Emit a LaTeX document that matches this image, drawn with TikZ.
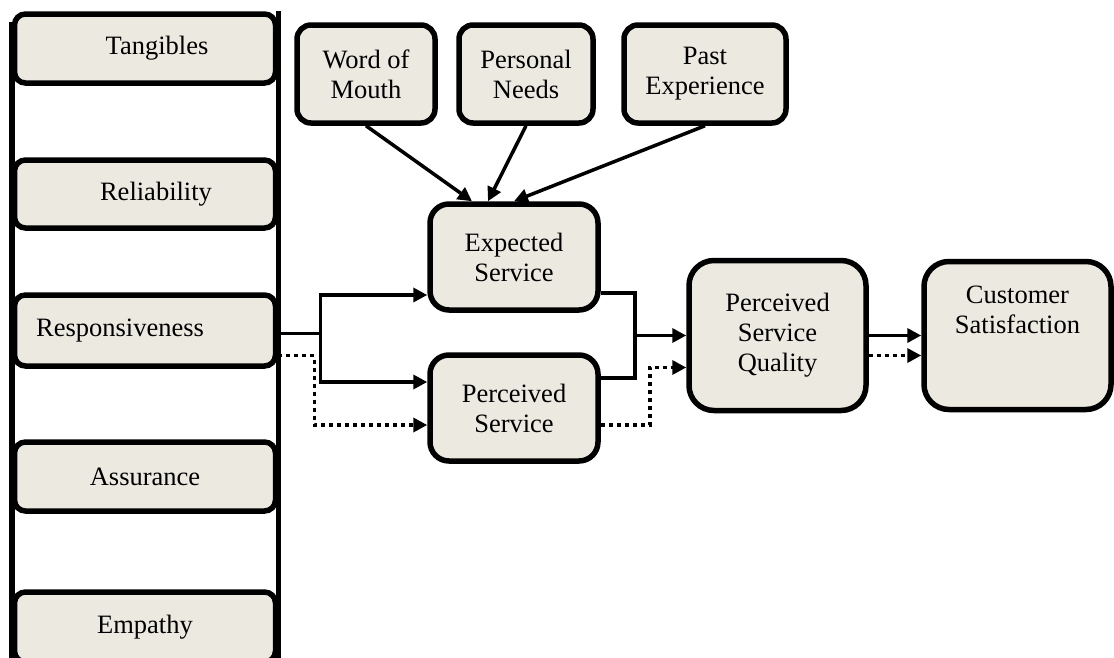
\documentclass[tikz,border=0pt]{standalone}
\usepackage{fontspec}
\setmainfont{Liberation Serif}
\usetikzlibrary{positioning,arrows.meta,calc}
\definecolor{boxfill}{RGB}{236,234,224}

\begin{document}
\begin{tikzpicture}[
  x=1pt, y=-1pt,
  font=\fontsize{26.5}{30}\selectfont,
  node distance=24pt,
  box/.style={
    rectangle, draw=black, line width=5.5pt, fill=boxfill, align=center
  },
  fac/.style={
    box, rounded corners=11pt,
    minimum width=261pt, minimum height=69pt
  },
  src/.style={
    box, rounded corners=14pt,
    minimum width=138pt, minimum height=98pt
  },
  svc/.style={
    box, rounded corners=19pt,
    minimum width=168pt, minimum height=106pt
  },
  res/.style={
    box, rounded corners=25pt,
    minimum width=177pt, minimum height=150pt
  },
  rail/.style={line width=5.5pt},
  link/.style={line width=3.5pt},
  arr/.style={-{Triangle[length=14pt,width=14pt]}, line width=3.5pt},
  dotarr/.style={arr, dash pattern=on 4pt off 4pt}
]
\useasboundingbox (0,0) rectangle (1114,657);

% service quality dimensions
\node[fac] (tan) at (145,48.5) {\hspace*{24pt}Tangibles};
\node[fac, minimum height=68pt, below=71.5pt of tan] (rel) {\hspace*{22pt}Reliability};
\node[fac, minimum height=71pt, below=61.5pt of rel] (resp) {Responsiveness\hspace*{50pt}};
\node[fac, minimum height=69pt, below=70.5pt of resp] (ass) {Assurance};
\node[fac, minimum height=70pt, below=75.5pt of ass] (emp) {Empathy};

\draw[rail] ([yshift=-11pt]tan.north west) -- (tan.west |- emp.south);
\draw[rail] (tan.north east) -- (tan.east |- emp.south);

% expectation sources
\node[src] (wom) at (366,74) {Word of\\Mouth};
\node[src, minimum width=134pt, right=18.5pt of wom] (pn) {Personal\\Needs};
\node[src, minimum width=162pt, right=25.5pt of pn] (pe) {Past\\Experience};

% services
\node[svc] (exp) at (514,257) {Expected\\Service};
\node[svc, below=39.5pt of exp] (per) {Perceived\\Service};

\node[res] (psq) at (777.5,335.5) {Perceived\\Service\\Quality};
\node[res, minimum width=187pt, minimum height=148pt, right=52.5pt of psq] (cs) {};
\node[align=center] (cstxt) at ([yshift=26pt]cs.center) {Customer\\Satisfaction};

\draw[arr] (wom.south) -- ([xshift=-42pt]exp.north);
\draw[arr] (pn.south) -- ([xshift=-26pt]exp.north);
\draw[arr] (pe.south) -- (exp.north);

\draw[link] ([yshift=-3pt]resp.east) -- ++(42,0) coordinate (split);
\draw[arr] (split) |- ([yshift=-38pt]exp.west);
\draw[arr] (split) |- ([yshift=26pt]per.west);
\draw[dotarr] ([yshift=-25pt]resp.east) -- ++(36,0) |- ([yshift=-17pt]per.west);

\draw[link] ([yshift=-36pt]exp.east) -- ++(34,0) coordinate (join) |- ([yshift=30pt]per.east);
\draw[arr] (join |- psq.west) -- (psq.west);
\draw[dotarr] ([yshift=-17pt]per.east) -- ++(49,0) |- ([yshift=-32pt]psq.west);

\draw[arr] (psq.east) -- (psq.east -| cs.west);
\draw[dotarr] ([yshift=-20pt]psq.east) -- ([yshift=-20pt]psq.east -| cs.west);

\end{tikzpicture}
\end{document}
